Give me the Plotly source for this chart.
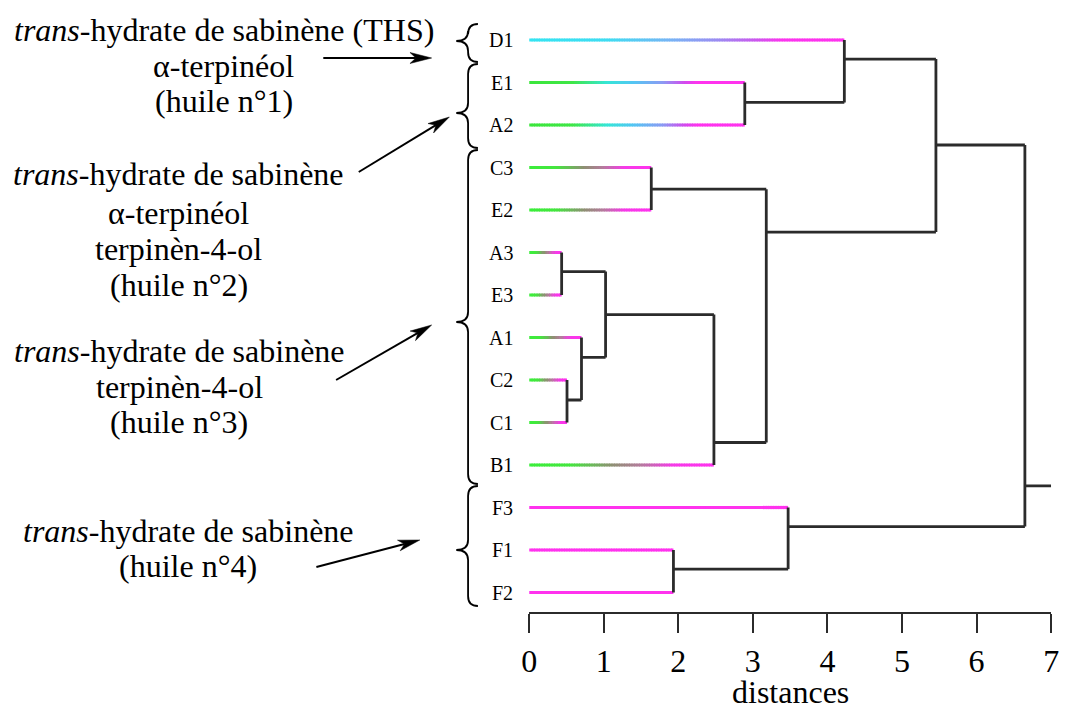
import plotly.graph_objects as go

# page has an 8px body margin: the figure is sized so that it fits the 1076x718 window
OFF = 8
W, H = 1076 - 2 * OFF, 718 - 2 * OFF

# ---------------- data ----------------
leaf_labels = ["D1", "E1", "A2", "C3", "E2", "A3", "E3", "A1", "C2", "C1", "B1", "F3", "F1", "F2"]
leaf_scheme = ["cyan", "green_cyan", "green_cyan", "green_mag", "green_mag", "green_mag",
               "green_mag", "green_mag", "green_mag", "green_mag", "green_mag", "mag", "mag", "mag"]
# merges (node ids: leaves 0..13, merge k creates node 14+k)
merge_left = [5, 8, 7, 14, 3, 12, 17, 1, 18, 11, 0, 24, 25]
merge_right = [6, 9, 15, 16, 4, 13, 10, 2, 20, 19, 21, 22, 23]
merge_dist = [0.436, 0.508, 0.702, 1.025, 1.638, 1.935, 2.478, 2.892, 3.18, 3.473, 4.227, 5.455, 6.648]
merge_row = [5.45, 8.47, 7.47, 6.46, 3.51, 12.45, 9.47, 1.47, 4.52, 11.45, 0.45, 2.47, 10.49]
root_dist = 7.0
x_ticks = [0, 1, 2, 3, 4, 5, 6, 7]
x_title = "distances"

group_lines = [
    ["<i>trans</i>-hydrate de sabinène (THS)", "α-terpinéol", "(huile n°1)"],
    ["<i>trans</i>-hydrate de sabinène", "α-terpinéol", "terpinèn-4-ol", "(huile n°2)"],
    ["<i>trans</i>-hydrate de sabinène", "terpinèn-4-ol", "(huile n°3)"],
    ["<i>trans</i>-hydrate de sabinène", "(huile n°4)"],
]

# ---------------- layout / style (screen pixels of the reference) ----------------
X0_PX = 529.0
X7_PX = 1059.0          # right end of the axis (its tick label kept inside the figure)
ROW0_PX, ROW_PX = 40.0, 42.5
AXIS_PX = 613.0
FONT = '"Liberation Serif", "Times New Roman", Times, serif'
LINK = "#2b2b2b"

schemes = {
    "cyan": [(0, "#35e4f2"), (0.25, "#40dcf2"), (0.45, "#79b4f5"), (0.6, "#9c8cf2"),
             (0.72, "#cc58ee"), (0.8, "#fb36ee"), (1, "#ff33ee")],
    "green_cyan": [(0, "#3be63b"), (0.2, "#3fe646"), (0.36, "#35e6d6"), (0.48, "#52c6f3"),
                   (0.62, "#8c9af3"), (0.72, "#d24aee"), (0.78, "#ff33ee"), (1, "#ff33ee")],
    "green_mag": [(0, "#3bee3b"), (0.22, "#44e63e"), (0.45, "#8f8f74"), (0.6, "#b47c9c"),
                  (0.78, "#f63ae8"), (1, "#ff33ee")],
    "mag": [(0, "#ff33ee"), (1, "#ff33ee")],
}


def hex2rgb(h):
    h = h.lstrip("#")
    return [int(h[i:i + 2], 16) for i in (0, 2, 4)]


def interp(stops, t):
    for (t0, c0), (t1, c1) in zip(stops[:-1], stops[1:]):
        if t0 <= t <= t1:
            f = 0 if t1 == t0 else (t - t0) / (t1 - t0)
            a, b = hex2rgb(c0), hex2rgb(c1)
            return "rgb(%d,%d,%d)" % tuple(round(a[i] + (b[i] - a[i]) * f) for i in range(3))
    return stops[-1][1]


def P(xp, yp):
    """screen pixel -> paper coordinates"""
    return (xp - OFF) / W, 1 - (yp - OFF) / H


n_leaves = len(leaf_labels)
node_dist = [0.0] * n_leaves + merge_dist
node_row = list(range(n_leaves)) + merge_row
parent_dist = [None] * (n_leaves + len(merge_dist))
for k, (l, r) in enumerate(zip(merge_left, merge_right)):
    parent_dist[l] = merge_dist[k]
    parent_dist[r] = merge_dist[k]
parent_dist[-1] = root_dist

fig = go.Figure()

# coloured leaf branches (gradients as short segments grouped by colour)
by_color = {}
for i in range(n_leaves):
    h = parent_dist[i]
    stops = schemes[leaf_scheme[i]]
    n = max(8, int(h * 30))
    for k in range(n):
        x0 = h * k / n
        x1 = min(h, h * (k + 1.35) / n)
        c = interp(stops, (k + 0.5) / n)
        xs, ys = by_color.setdefault(c, ([], []))
        xs += [x0, x1, None]
        ys += [i, i, None]
for c, (xs, ys) in by_color.items():
    fig.add_trace(go.Scatter(x=xs, y=ys, mode="lines", line=dict(color=c, width=3.2),
                             hoverinfo="skip", showlegend=False))

# black links
lx, ly = [], []
for k, (l, r) in enumerate(zip(merge_left, merge_right)):
    n = n_leaves + k
    d = merge_dist[k]
    lx += [d, d, None]
    ly += [node_row[l], node_row[r], None]
    lx += [d, parent_dist[n], None]
    ly += [node_row[n], node_row[n], None]
fig.add_trace(go.Scatter(x=lx, y=ly, mode="lines", line=dict(color=LINK, width=2.8),
                         hoverinfo="skip", showlegend=False))

# dummy trace to carry the visible distance axis
fig.add_trace(go.Scatter(x=[x_ticks[0], x_ticks[-1]], y=[0, 0], xaxis="x2", yaxis="y",
                         mode="markers", marker=dict(opacity=0), hoverinfo="skip", showlegend=False))

ann = []
for i, lab in enumerate(leaf_labels):
    ann.append(dict(text=lab, xref="paper", yref="y", x=P(X0_PX - 14, 0)[0], y=i,
                    xanchor="right", yanchor="middle", showarrow=False,
                    font=dict(family=FONT, size=20, color="black")))

line_pos = [
    (219, [30, 66, 101]),
    (173, [174, 213, 249, 285]),
    (174, [351, 387, 422]),
    (183, [531, 566]),
]
for lines, (cx, ys) in zip(group_lines, line_pos):
    for t, yy in zip(lines, ys):
        x, y = P(cx, yy)
        ann.append(dict(text=t, xref="paper", yref="paper", x=x, y=y, xanchor="center",
                        yanchor="middle", showarrow=False,
                        font=dict(family=FONT, size=32, color="black")))

# x-axis title as annotation (keeps it inside the window)
tx, ty = P((X0_PX + X7_PX) / 2, 692)
ann.append(dict(text=x_title, xref="paper", yref="paper", x=tx, y=ty, xanchor="center",
                yanchor="middle", showarrow=False, borderpad=0,
                font=dict(family=FONT, size=32, color="black")))

shapes = []


def brace(top, bot, tip, xr=477, xs=467, xt=455, r=10):
    pts = [("M", xr, top), ("Q", xs, top), ("", xs, top + r), ("L", xs, tip - r),
           ("Q", xs, tip), ("", xt, tip), ("Q", xs, tip), ("", xs, tip + r),
           ("L", xs, bot - r), ("Q", xs, bot), ("", xr, bot)]
    s = ""
    for cmd, a, b in pts:
        x, y = P(a, b)
        s += ("%s%.5f,%.5f " % (cmd, x, y))
    return dict(type="path", path=s.strip(), xref="paper", yref="paper",
                line=dict(color="black", width=1.8))


for top, bot, tip in [(24, 62, 41), (64, 148, 113), (150, 484, 322), (486, 606, 550)]:
    shapes.append(brace(top, bot, tip))


def arrow(x1, y1, x2, y2, L=22, notch=16, hw=5.5):
    dx, dy = x2 - x1, y2 - y1
    ln = (dx * dx + dy * dy) ** 0.5
    ux, uy = dx / ln, dy / ln
    nx, ny = -uy, ux
    bx, by = x2 - L * ux, y2 - L * uy
    mx, my = x2 - notch * ux, y2 - notch * uy
    out = []
    a, b = P(x1, y1)
    c, d = P(mx, my)
    out.append(dict(type="line", xref="paper", yref="paper", x0=a, y0=b, x1=c, y1=d,
                    line=dict(color="black", width=2)))
    pts = [P(x2, y2), P(bx + hw * nx, by + hw * ny), P(mx, my), P(bx - hw * nx, by - hw * ny)]
    path = "M" + " L".join("%.5f,%.5f" % p for p in pts) + " Z"
    out.append(dict(type="path", path=path, xref="paper", yref="paper", fillcolor="black",
                    line=dict(color="black", width=0.5)))
    return out


for a in [(320, 58, 430, 58), (356, 172, 448, 117), (333, 380, 430, 325), (313, 567, 418, 540)]:
    shapes += arrow(*a)

dom = [P(X0_PX, 0)[0], P(X7_PX, 0)[0]]
r0 = (ROW0_PX - OFF) / ROW_PX
y_top = -r0
y_bot = H / ROW_PX - r0

fig.update_layout(
    width=W, height=H,
    margin=dict(l=0, r=0, t=0, b=0),
    paper_bgcolor="white", plot_bgcolor="white",
    showlegend=False,
    xaxis=dict(domain=dom, range=[x_ticks[0], x_ticks[-1]], visible=False, fixedrange=True),
    xaxis2=dict(domain=dom, range=[x_ticks[0], x_ticks[-1]], anchor="free", overlaying="x",
                position=P(0, AXIS_PX)[1], side="bottom",
                showline=True, linecolor=LINK, linewidth=2.4, showgrid=False, zeroline=False,
                ticks="outside", ticklen=19, tickwidth=2.4, tickcolor=LINK,
                tickmode="array", tickvals=x_ticks, ticktext=[str(t) for t in x_ticks],
                tickfont=dict(family=FONT, size=32, color="black"),
                ticklabeloverflow="allow", fixedrange=True),
    yaxis=dict(domain=[0, 1], range=[y_bot, y_top], visible=False, fixedrange=True),
    annotations=ann,
    shapes=shapes,
)

fig.write_html("out.html")
